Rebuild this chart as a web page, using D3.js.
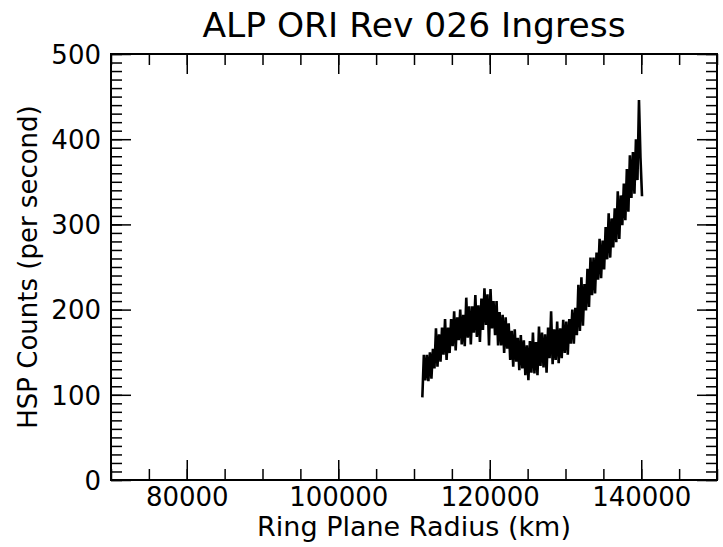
<!DOCTYPE html>
<html><head><meta charset="utf-8">
<script src="https://cdn.jsdelivr.net/npm/d3@7"></script>
<style>body{margin:0;background:#fff}svg{display:block}text{font-family:"DejaVu Sans",sans-serif;fill:#000}</style>
</head><body><svg id="c" width="723" height="547"></svg>
<script>
const title = "ALP ORI Rev 026 Ingress";
const xLabel = "Ring Plane Radius (km)";
const yLabel = "HSP Counts (per second)";
const xDomain = [70000, 150000];
const yDomain = [0, 500];
const xTickValues = [80000, 100000, 120000, 140000];
const yTickValues = [0, 100, 200, 300, 400, 500];
const radius = [
111100,111300,111500,111700,111900,112100,112300,112500,112700,112900,
113100,113300,113500,113700,113900,114100,114300,114500,114700,114900,
115100,115300,115500,115700,115900,116100,116300,116500,116700,116900,
117100,117300,117500,117700,117900,118100,118300,118500,118700,118900,
119100,119300,119500,119700,119900,120100,120300,120500,120700,120900,
121100,121300,121500,121700,121900,122100,122300,122500,122700,122900,
123100,123300,123500,123700,123900,124100,124300,124500,124700,124900,
125100,125300,125500,125700,125900,126100,126300,126500,126700,126900,
127100,127300,127500,127700,127900,128100,128300,128500,128700,128900,
129100,129300,129500,129700,129900,130100,130300,130500,130700,130900,
131100,131300,131500,131700,131900,132100,132300,132500,132700,132900,
133100,133300,133500,133700,133900,134100,134300,134500,134700,134900,
135100,135300,135500,135700,135900,136100,136300,136500,136700,136900,
137100,137300,137500,137700,137900,138100,138300,138500,138700,138900,
139100,139300,139500,139700,139900,140100];
const counts = [
97,147,117,147,116,150,119,154,131,178,
133,171,139,179,147,189,141,179,149,189,
157,198,152,191,164,200,159,194,157,214,
167,204,159,204,173,217,168,205,162,213,
176,225,182,218,158,224,178,210,170,210,
158,197,158,194,149,191,154,184,141,175,
133,177,139,167,129,170,131,164,123,158,
117,163,126,173,125,162,123,180,134,173,
132,171,126,179,143,198,136,177,141,186,
137,178,143,188,149,186,147,189,160,200,
160,202,170,229,175,238,181,230,199,248,
203,261,217,261,219,267,235,283,237,281,
247,297,259,313,261,307,273,319,279,339,
283,334,299,348,305,365,315,381,331,385,
336,400,352,446,378,333];

const svg = d3.select("#c");
const m = {l:111, r:717, t:54, b:480};
const x = d3.scaleLinear().domain(xDomain).range([m.l, m.r]);
const y = d3.scaleLinear().domain(yDomain).range([m.b, m.t]);

// data line
const pts = radius.map((r,i)=>[r, counts[i]]);
svg.append("path").datum(pts)
  .attr("d", d3.line().x(d=>x(d[0])).y(d=>y(d[1])))
  .attr("fill","none").attr("stroke","#000").attr("stroke-width",2.6).attr("stroke-linejoin","bevel");

const major = 20, minor = 11;
const xMinor = d3.range(xDomain[0], xDomain[1]+1, 5000);
const yMinor = d3.range(yDomain[0], yDomain[1]+1, 10);

const axB = d3.axisBottom(x).tickValues(xTickValues).tickSize(-major).tickFormat(d3.format("d")).tickPadding(8);
const axT = d3.axisTop(x).tickValues(xTickValues).tickSize(-major).tickFormat("");
const axL = d3.axisLeft(y).tickValues(yTickValues).tickSize(-major).tickFormat(d3.format("d")).tickPadding(10);
const axR = d3.axisRight(y).tickValues(yTickValues).tickSize(-major).tickFormat("");
const axBm = d3.axisBottom(x).tickValues(xMinor).tickSize(-minor).tickFormat("");
const axTm = d3.axisTop(x).tickValues(xMinor).tickSize(-minor).tickFormat("");
const axLm = d3.axisLeft(y).tickValues(yMinor).tickSize(-minor).tickFormat("");
const axRm = d3.axisRight(y).tickValues(yMinor).tickSize(-minor).tickFormat("");

function add(ax, tr){
  const g = svg.append("g").attr("transform", tr).call(ax);
  g.select(".domain").remove();
  g.selectAll("line").attr("stroke","#000").attr("stroke-width",1.5);
  g.selectAll("text").attr("font-size",26).attr("font-family","DejaVu Sans").attr("fill","#000");
  return g;
}
add(axBm, `translate(0,${m.b})`);
add(axTm, `translate(0,${m.t})`);
add(axLm, `translate(${m.l},0)`);
add(axRm, `translate(${m.r},0)`);
add(axB, `translate(0,${m.b})`);
add(axT, `translate(0,${m.t})`);
add(axL, `translate(${m.l},0)`).selectAll("text").attr("dy","0.36em");
add(axR, `translate(${m.r},0)`);

svg.append("rect").attr("x",m.l).attr("y",m.t).attr("width",m.r-m.l).attr("height",m.b-m.t)
  .attr("fill","none").attr("stroke","#000").attr("stroke-width",2);

svg.append("text").attr("x",(m.l+m.r)/2).attr("y",37).attr("text-anchor","middle")
  .attr("font-size",34.5).text(title);
svg.append("text").attr("x",(m.l+m.r)/2).attr("y",536).attr("text-anchor","middle")
  .attr("font-size",27).text(xLabel);
svg.append("text").attr("transform",`translate(37,${(m.t+m.b)/2}) rotate(-90)`).attr("text-anchor","middle")
  .attr("font-size",26).text(yLabel);
</script></body></html>
